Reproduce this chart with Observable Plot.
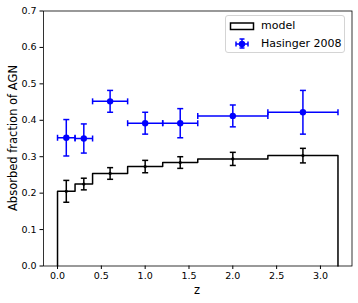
<!DOCTYPE html>
<html><head><meta charset="utf-8">
<script src="https://cdn.jsdelivr.net/npm/d3@7"></script>
<script src="https://cdn.jsdelivr.net/npm/@observablehq/plot@0.6"></script>
<style>
body{margin:0;background:#fff;}
#wrap{position:relative;width:358px;height:303px;font-family:"DejaVu Sans",sans-serif;color:#000;}
#wrap svg.plot{position:absolute;left:0;top:0;}
.ylab{position:absolute;left:13px;top:138px;transform:translate(-50%,-50%) rotate(-90deg);font-size:11.5px;white-space:nowrap;}
.xlab{position:absolute;left:197px;top:290px;transform:translate(-50%,-50%);font-size:11.5px;}
.legend{position:absolute;left:225px;top:15px;width:120px;height:38px;border:1px solid #d4d4d4;border-radius:3px;background:rgba(255,255,255,0.8);box-sizing:border-box;font-size:11px;}
.legend .row{position:absolute;left:0;height:14px;line-height:14px;}
.legend .row span{position:absolute;left:35px;white-space:nowrap;}
.legend svg{position:absolute;left:0;top:0;}
</style></head><body><div id="wrap"></div>
<script>
// Model histogram (bin edges and absorbed fraction per bin)
const binEdges = [0, 0.2, 0.4, 0.8, 1.2, 1.6, 2.4, 3.2];
const modelFrac = [0.205, 0.225, 0.254, 0.273, 0.284, 0.294, 0.303];
const modelErr = [0.030, 0.016, 0.016, 0.017, 0.016, 0.018, 0.020];
// Hasinger 2008 data
const hasZ = [0.1, 0.3, 0.6, 1.0, 1.4, 2.0, 2.8];
const hasZerr = [0.1, 0.1, 0.2, 0.2, 0.2, 0.4, 0.4];
const hasFrac = [0.352, 0.350, 0.452, 0.392, 0.392, 0.412, 0.422];
const hasErr = [0.050, 0.040, 0.030, 0.030, 0.040, 0.030, 0.060];
const xTicks = [0, 0.5, 1, 1.5, 2, 2.5, 3];
const yTicks = [0, 0.1, 0.2, 0.3, 0.4, 0.5, 0.6, 0.7];
const labels = {x: "z", y: "Absorbed fraction of AGN", model: "model", data: "Hasinger 2008"};

const step = [{x: binEdges[0], y: 0}];
modelFrac.forEach((v, i) => step.push({x: binEdges[i], y: v}));
step.push({x: binEdges[binEdges.length - 1], y: modelFrac[modelFrac.length - 1]});
step.push({x: binEdges[binEdges.length - 1], y: 0});

const model = modelFrac.map((v, i) => ({x: (binEdges[i] + binEdges[i + 1]) / 2, y: v, e: modelErr[i]}));
const has = hasZ.map((z, i) => ({x: z, xe: hasZerr[i], y: hasFrac[i], e: hasErr[i]}));

const hcap = {draw(ctx, size) { const r = Math.sqrt(size / Math.PI); ctx.moveTo(-r, 0); ctx.lineTo(r, 0); }};
const vcap = {draw(ctx, size) { const r = Math.sqrt(size / Math.PI); ctx.moveTo(0, -r); ctx.lineTo(0, r); }};

function errMarks(data, color, dotR, withX) {
  const m = [];
  if (withX) {
    m.push(Plot.link(data, {x1: d => d.x - d.xe, x2: d => d.x + d.xe, y1: "y", y2: "y", stroke: color, strokeWidth: 1.5}));
    m.push(Plot.dot(data, {x: d => d.x - d.xe, y: "y", symbol: vcap, r: 3, stroke: color, fill: "none", strokeWidth: 1.5}));
    m.push(Plot.dot(data, {x: d => d.x + d.xe, y: "y", symbol: vcap, r: 3, stroke: color, fill: "none", strokeWidth: 1.5}));
  }
  m.push(Plot.link(data, {x1: "x", x2: "x", y1: d => d.y - d.e, y2: d => d.y + d.e, stroke: color, strokeWidth: 1.5}));
  m.push(Plot.dot(data, {x: "x", y: d => d.y - d.e, symbol: hcap, r: 3, stroke: color, fill: "none", strokeWidth: 1.5}));
  m.push(Plot.dot(data, {x: "x", y: d => d.y + d.e, symbol: hcap, r: 3, stroke: color, fill: "none", strokeWidth: 1.5}));
  m.push(Plot.dot(data, {x: "x", y: "y", r: dotR, fill: color, stroke: "none"}));
  return m;
}

const chart = Plot.plot({
  width: 358, height: 303,
  marginLeft: 43, marginRight: 6.5, marginTop: 10.5, marginBottom: 37.5,
  style: {fontFamily: "DejaVu Sans, sans-serif", fontSize: "9.5px", color: "#000", background: "#fff"},
  x: {domain: [-0.16, 3.36], label: null},
  y: {domain: [0, 0.7], label: null},
  marks: [
    Plot.line(step, {x: "x", y: "y", curve: "step-after", stroke: "#000", strokeWidth: 1.5}),
    ...errMarks(model, "#000", 1.6, false),
    ...errMarks(has, "#0000ff", 3.2, true),
    Plot.axisX({ticks: xTicks, tickSize: 3.5, tickPadding: 3, tickFormat: d3.format(".1f"), label: null, stroke: "#000"}),
    Plot.axisY({ticks: yTicks, tickSize: 3.5, tickPadding: 3.5, tickFormat: d3.format(".1f"), label: null, stroke: "#000"}),
    Plot.frame({stroke: "#000", strokeWidth: 0.8})
  ]
});
chart.classList.add("plot");
const wrap = document.getElementById("wrap");
wrap.appendChild(chart);

const yl = document.createElement("div"); yl.className = "ylab"; yl.textContent = labels.y; wrap.appendChild(yl);
const xl = document.createElement("div"); xl.className = "xlab"; xl.textContent = labels.x; wrap.appendChild(xl);

const lg = document.createElement("div"); lg.className = "legend";
lg.innerHTML = `
<svg width="120" height="38">
  <rect x="4.5" y="7" width="23" height="6.5" fill="none" stroke="#000" stroke-width="1.5"/>
  <line x1="10" y1="28" x2="22" y2="28" stroke="#0000ff" stroke-width="1.5"/>
  <line x1="10" y1="25.5" x2="10" y2="30.5" stroke="#0000ff" stroke-width="1.5"/>
  <line x1="22" y1="25.5" x2="22" y2="30.5" stroke="#0000ff" stroke-width="1.5"/>
  <line x1="16" y1="23" x2="16" y2="32" stroke="#0000ff" stroke-width="1.5"/>
  <line x1="13.5" y1="23" x2="18.5" y2="23" stroke="#0000ff" stroke-width="1.5"/>
  <line x1="13.5" y1="32" x2="18.5" y2="32" stroke="#0000ff" stroke-width="1.5"/>
  <circle cx="16" cy="28" r="3.2" fill="#0000ff"/>
</svg>
<div class="row" style="top:3px"><span></span></div>
<div class="row" style="top:21px"><span></span></div>`;
lg.querySelectorAll(".row span")[0].textContent = labels.model;
lg.querySelectorAll(".row span")[1].textContent = labels.data;
wrap.appendChild(lg);
</script></body></html>
